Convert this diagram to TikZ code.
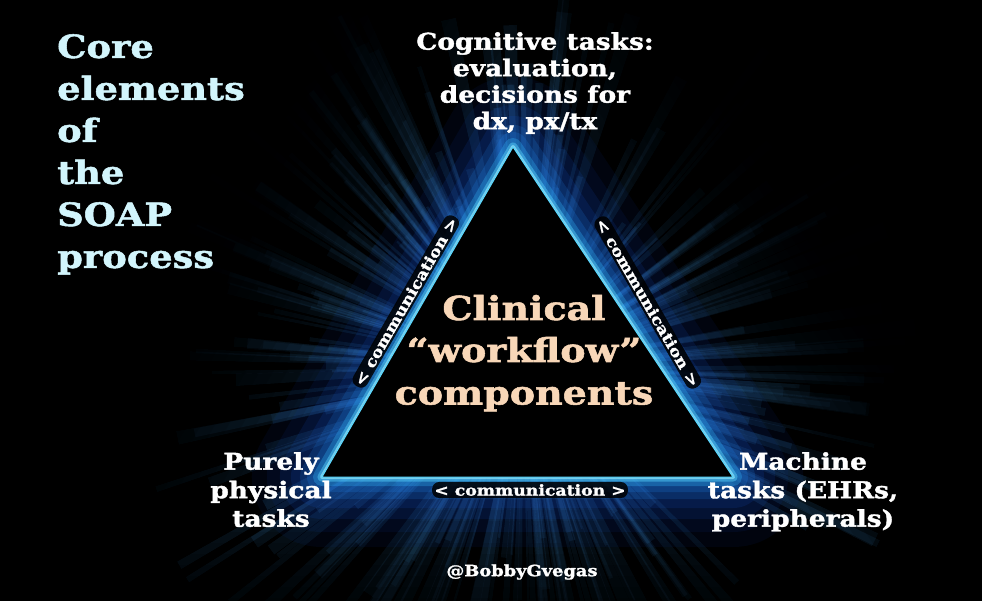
\documentclass[tikz,border=0pt]{standalone}
\usepackage{fontspec}
\setmainfont{DejaVu Serif}
\newfontfamily\heavy{DejaVu Serif Bold}[FakeStretch=1.15, FakeBold=1.6]
\usetikzlibrary{calc}
\definecolor{coretext}{HTML}{D2F5FC}
\definecolor{peach}{HTML}{F8D7B8}
\definecolor{raycol}{HTML}{4AA8F5}
\definecolor{glowa}{HTML}{0A2F8A}
\definecolor{glowb}{HTML}{1550C8}
\definecolor{glowc}{HTML}{1F7FE6}
\definecolor{glowd}{HTML}{2FB0F5}
\definecolor{glowe}{HTML}{5AD8FF}
\definecolor{glowf}{HTML}{A0F0FF}
\tikzset{
  blocktext/.style={inner sep=0pt, text=white, align=center},
  cliniline/.style={inner sep=0pt, anchor=base, text=peach, font=\heavy\fontsize{33}{42.5}\selectfont},
  comm/.style={inner sep=2.2pt, rounded corners=7pt, fill=black, fill opacity=0.85,
               text opacity=1, text=white, font=\heavy\fontsize{15}{15}\selectfont},
}
\begin{document}
\begin{tikzpicture}[x=1pt,y=-1pt]
\useasboundingbox (0,0) rectangle (982,601);
\fill[black] (0,0) rectangle (982,601);
\coordinate (T) at (513,147);
\coordinate (L) at (322,477);
\coordinate (R) at (733,477);
\coordinate (C) at (523,367);
% rays
\pgfmathsetseed{11}
\foreach \i in {1,...,300}{
  \pgfmathsetmacro\ang{rnd*360}
  \pgfmathsetmacro\len{170+rnd*230}
  \pgfmathsetmacro\wid{0.3+rnd*1.0}
  \fill[raycol, opacity=0.16] (C) -- ($(C)+(\ang-\wid:\len)$) -- ($(C)+(\ang+\wid:\len)$) -- cycle;
}
% vignette following the triangle
\foreach \s in {1.2,1.3,...,2.8}{
  \fill[black, opacity=0.12, even odd rule] (-10,-10) rectangle (992,611)
    ($(C)!\s!(T)$) -- ($(C)!\s!(L)$) -- ($(C)!\s!(R)$) -- cycle;
}
% edge glow
\foreach \w/\c/\o in {140/glowa/0.10, 110/glowa/0.12, 84/glowb/0.13, 62/glowb/0.15,
                      44/glowc/0.18, 30/glowc/0.22, 18/glowd/0.32, 9/glowe/0.45, 4/glowf/0.6}{
  \draw[\c, line width=\w pt, opacity=\o, line join=round] (T) -- (L) -- (R) -- cycle;
}
\fill[black] (T) -- (L) -- (R) -- cycle;
\draw[glowe, line width=1pt, line join=miter] (T) -- (L) -- (R) -- cycle;
% texts
\node[inner sep=0pt, anchor=north west, align=left, text=coretext,
      font=\heavy\fontsize{32}{42}\selectfont] (core) at (57,34)
  {Core\\elements\\of\\the\\SOAP\\process};
\node[blocktext, anchor=north, font=\heavy\fontsize{23}{26.5}\selectfont] (cog) at (535,32)
  {Cognitive tasks:\\evaluation,\\decisions for\\dx, px/tx};
\node[cliniline] (clin1) at (524,320) {Clinical};
\node[cliniline] (clin2) at (524,362) {“workflow”};
\node[cliniline] (clin3) at (524,404.5) {components};
\node[blocktext, anchor=north, font=\heavy\fontsize{23}{28.5}\selectfont] (phys) at (271,452)
  {Purely\\physical\\tasks};
\node[blocktext, anchor=north, font=\heavy\fontsize{23}{28.5}\selectfont] (mach) at (803,452)
  {Machine\\tasks (EHRs,\\peripherals)};
\node[comm, rotate=60] (commL) at (405.8,301.5) {< communication >};
\node[comm, rotate=-60] (commR) at (647.7,302.5) {< communication >};
\node[comm] (commB) at (530,490) {< communication >};
\node[inner sep=0pt, text=white, font=\heavy\fontsize{15.5}{15.5}\selectfont] (handle) at (522,572) {@BobbyGvegas};
\end{tikzpicture}
\end{document}
